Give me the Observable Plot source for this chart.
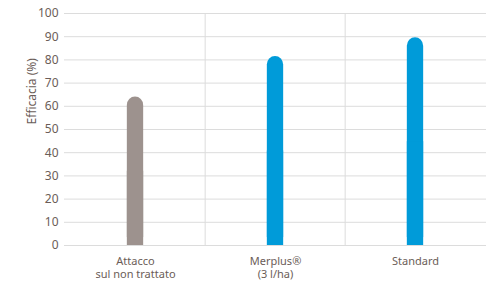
<!DOCTYPE html>
<html>
<head>
<meta charset="utf-8">
<script src="https://cdn.jsdelivr.net/npm/d3@7"></script>
<script src="https://cdn.jsdelivr.net/npm/@observablehq/plot@0.6"></script>
<style>
  body { margin: 0; background: #fff; }
  #chart svg { display: block; }
</style>
</head>
<body>
<div id="chart"></div>
<script>
const categories = ["Attacco sul non trattato", "Merplus® (3 l/ha)", "Standard"];
const tickLabels = ["Attacco\nsul non trattato", "Merplus®\n(3 l/ha)", "Standard"];
const values = [64, 81.5, 89.5];
const colors = ["#9d928e", "#009bd9", "#009bd9"];
const yTicks = [0, 10, 20, 30, 40, 50, 60, 70, 80, 90, 100];
const yLabel = "Efficacia (%)";

const data = categories.map((c, i) => ({cat: c, value: values[i], color: colors[i]}));

const W = 498, H = 295;
const mL = 64, mR = 12, mT = 13, mB = 50;
const bw = (W - mL - mR) / categories.length;
const barW = 17;
const inset = (bw - barW) / 2;
const txt = "#6b5d58";

const chart = Plot.plot({
  width: W,
  height: H,
  marginLeft: mL,
  marginRight: mR,
  marginTop: mT,
  marginBottom: mB,
  style: {fontFamily: "'Noto Sans', sans-serif", color: txt, background: "#fff"},
  x: {domain: categories, padding: 0},
  y: {domain: [0, 100]},
  marks: [
    Plot.gridY(yTicks, {stroke: "#dcdcdc", strokeOpacity: 1, strokeWidth: 1}),
    Plot.ruleX(categories.slice(1), {x: d => d, y1: 0, y2: 100, dx: -bw / 2, stroke: "#dcdcdc", strokeWidth: 1}),
    Plot.barY(data, {x: "cat", y: "value", fill: "color", rx: barW / 2, insetLeft: inset, insetRight: inset}),
    Plot.barY(data, {x: "cat", y: d => d.value / 2, fill: "color", insetLeft: inset, insetRight: inset}),
    Plot.axisY(yTicks, {tickSize: 0, tickPadding: 6, fontSize: 12, fill: txt, label: null}),
    Plot.text([yLabel], {frameAnchor: "left", dx: -mL + 32, dy: -5, rotate: -90, fontSize: 12, fill: txt}),
    Plot.axisX({tickSize: 0, tickPadding: 11, fontSize: 11, fill: txt, lineHeight: 1.12, label: null,
      tickFormat: d => tickLabels[categories.indexOf(d)]})
  ]
});
document.getElementById("chart").append(chart);
</script>
</body>
</html>
